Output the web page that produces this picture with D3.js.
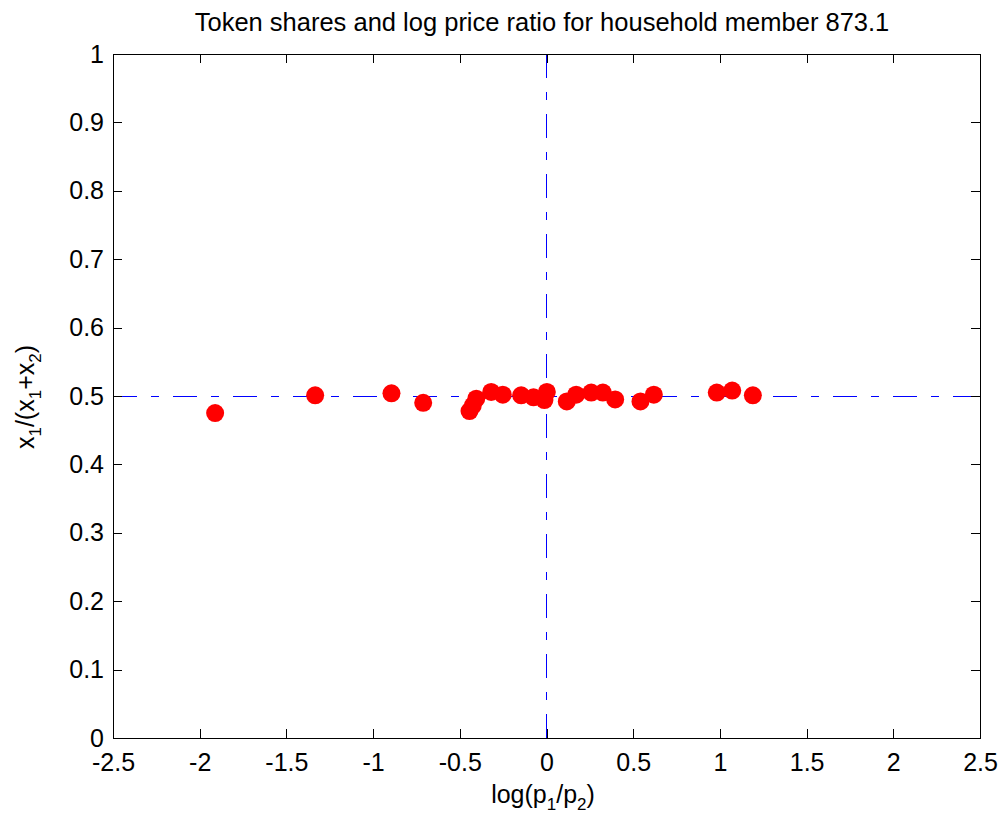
<!DOCTYPE html>
<html>
<head>
<meta charset="utf-8">
<script src="https://cdn.jsdelivr.net/npm/d3@7"></script>
<style>
  html, body { margin: 0; padding: 0; background: #fff; }
  svg { display: block; font-family: "Liberation Sans", Arial, sans-serif; }
  line, rect.frame { shape-rendering: crispEdges; }
</style>
</head>
<body>
<svg id="chart" width="1006" height="817"></svg>
<script>
// Observed log price ratios and token shares
const logPriceRatio = [-1.911, -1.334, -0.894, -0.711, -0.444, -0.425, -0.405, -0.319, -0.252, -0.146, -0.075, -0.012, 0.002, 0.117, 0.171, 0.258, 0.325, 0.396, 0.542, 0.619, 0.982, 1.071, 1.190];
const tokenShare    = [0.475, 0.501, 0.504, 0.490, 0.478, 0.486, 0.496, 0.506, 0.502, 0.501, 0.498, 0.494, 0.506, 0.492, 0.502, 0.505, 0.505, 0.495, 0.492, 0.502, 0.505, 0.508, 0.501];
const xTicks = [-2.5, -2, -1.5, -1, -0.5, 0, 0.5, 1, 1.5, 2, 2.5];
const yTicks = [0, 0.1, 0.2, 0.3, 0.4, 0.5, 0.6, 0.7, 0.8, 0.9, 1];

const svg = d3.select("#chart");
const mLeft = 113, mRight = 980, mTop = 54, mBottom = 738;

const x = d3.scaleLinear().domain([-2.5, 2.5]).range([mLeft, mRight]);
const y = d3.scaleLinear().domain([0, 1]).range([mBottom, mTop]);

const tickFont = 25;
const subFont = 17;
const fmt = d => String(d);

// Reference lines (dash-dot)
const dashDot = "24,14,8,14";
svg.append("line")
  .attr("x1", x(-2.5)).attr("x2", x(2.5))
  .attr("y1", y(0.5)).attr("y2", y(0.5))
  .attr("stroke", "#0000ff").attr("stroke-width", 1)
  .attr("stroke-dasharray", dashDot);
svg.append("line")
  .attr("x1", x(0)).attr("x2", x(0))
  .attr("y1", y(0)).attr("y2", y(1))
  .attr("stroke", "#0000ff").attr("stroke-width", 1)
  .attr("stroke-dasharray", dashDot);

// Data points
svg.append("g").selectAll("circle")
  .data(logPriceRatio.map((v, i) => [v, tokenShare[i]]))
  .join("circle")
  .attr("cx", d => x(d[0]))
  .attr("cy", d => y(d[1]))
  .attr("r", 9)
  .attr("fill", "#ff0000");

// Axes: ticks inside on all four sides
function styleAxis(g) {
  g.select(".domain").remove();
  g.selectAll(".tick line").attr("stroke", "#000").attr("stroke-width", 1);
  g.selectAll(".tick text").attr("fill", "#000").attr("font-size", tickFont)
    .attr("font-family", "Liberation Sans, Arial, sans-serif");
}

svg.append("g").attr("transform", `translate(0,${mBottom})`)
  .call(d3.axisBottom(x).tickValues(xTicks).tickFormat(fmt).tickSizeInner(-9).tickSizeOuter(0).tickPadding(15))
  .call(styleAxis);
svg.append("g").attr("transform", `translate(0,${mTop})`)
  .call(d3.axisTop(x).tickValues(xTicks).tickSizeInner(-9).tickSizeOuter(0))
  .call(styleAxis).call(g => g.selectAll(".tick text").remove());
svg.append("g").attr("transform", `translate(${mLeft},0)`)
  .call(d3.axisLeft(y).tickValues(yTicks).tickFormat(fmt).tickSizeInner(-9).tickSizeOuter(0).tickPadding(9))
  .call(styleAxis);
svg.append("g").attr("transform", `translate(${mRight},0)`)
  .call(d3.axisRight(y).tickValues(yTicks).tickSizeInner(-9).tickSizeOuter(0))
  .call(styleAxis).call(g => g.selectAll(".tick text").remove());

// Frame
svg.append("rect").attr("class", "frame")
  .attr("x", mLeft).attr("y", mTop)
  .attr("width", mRight - mLeft).attr("height", mBottom - mTop)
  .attr("fill", "none").attr("stroke", "#000").attr("stroke-width", 1);

// Title
svg.append("text")
  .attr("x", 542).attr("y", 31)
  .attr("text-anchor", "middle").attr("font-size", 25.5).attr("fill", "#000")
  .text("Token shares and log price ratio for household member 873.1");

// X label: log(p1/p2)
const xl = svg.append("text")
  .attr("x", 543).attr("y", 803)
  .attr("text-anchor", "middle").attr("font-size", tickFont).attr("fill", "#000");
xl.append("tspan").text("log(p");
xl.append("tspan").attr("dy", 7).attr("font-size", subFont).text("1");
xl.append("tspan").attr("dy", -7).text("/p");
xl.append("tspan").attr("dy", 7).attr("font-size", subFont).text("2");
xl.append("tspan").attr("dy", -7).text(")");

// Y label: x1/(x1+x2)
const yl = svg.append("text")
  .attr("transform", `translate(34,397) rotate(-90)`)
  .attr("text-anchor", "middle").attr("font-size", tickFont).attr("fill", "#000");
yl.append("tspan").text("x");
yl.append("tspan").attr("dy", 7).attr("font-size", subFont).text("1");
yl.append("tspan").attr("dy", -7).text("/(x");
yl.append("tspan").attr("dy", 7).attr("font-size", subFont).text("1");
yl.append("tspan").attr("dy", -7).text("+x");
yl.append("tspan").attr("dy", 7).attr("font-size", subFont).text("2");
yl.append("tspan").attr("dy", -7).text(")");
</script>
</body>
</html>
